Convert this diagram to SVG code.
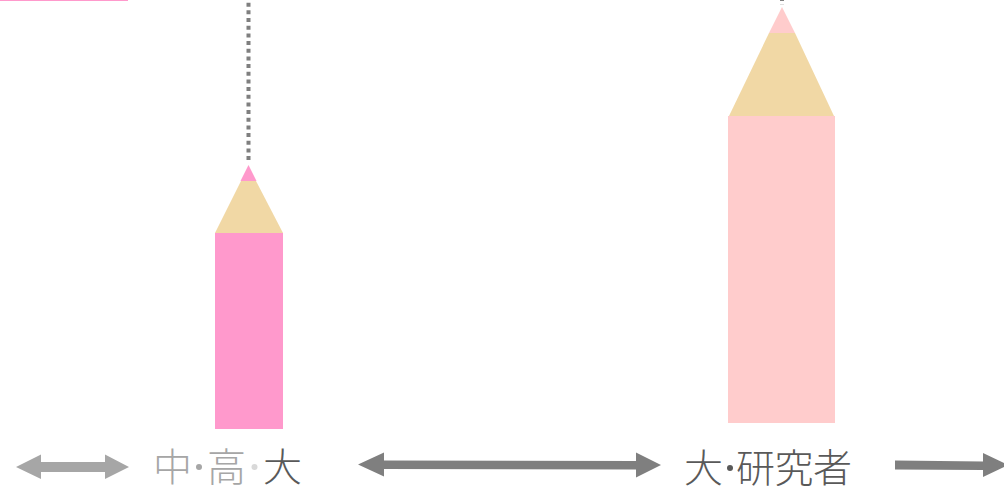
<svg xmlns="http://www.w3.org/2000/svg" width="1004" height="486" viewBox="0 0 1004 486">
<style>
text{font-family:"Noto Sans CJK JP","Noto Sans CJK SC",sans-serif;font-size:39px;font-weight:300}
.dk{fill:#595959}.lt{fill:#a6a6a6}.vl{fill:#d9d9d9}
.wood{fill:#f1d8a5}.pink{fill:#ff99cc}.rose{fill:#ffcccc}
.dots{stroke:#7f7f7f;stroke-width:4;stroke-dasharray:4 3.67;fill:none}
</style>
<rect width="1004" height="486" fill="#fff"/>
<rect x="0" y="0" width="128" height="1" class="pink"/>
<g id="connectors">
<path class="dots" d="M248.500 2.700V163"/>
<path class="dots" d="M782 -3V5"/>
<polygon fill="#a6a6a6" points="16,467 41,454.500 41,462 105,462 105,454.500 129,467 105,479 105,472 41,472 41,479"/>
<polygon fill="#7f7f7f" points="358,464.500 384,452.500 384,460.500 636,461 636,452.500 661,465 636,477.500 636,469.500 384,469 384,476.500"/>
<polygon fill="#7f7f7f" points="895,460.500 983,461.500 983,453 1008,465 983,477 983,470 895,469.500"/>
</g>
<g id="pencil-1">
<rect class="pink" x="215" y="233" width="68" height="196"/>
<polygon class="wood" points="215,233 283,233 256,181 241,181"/>
<polygon class="pink" points="248.500,165 256.500,181 240.500,181"/>
</g>
<g id="pencil-2">
<rect class="rose" x="728" y="116" width="107" height="307"/>
<polygon class="wood" points="729,116 834,116 795,33 769,33"/>
<polygon class="rose" points="782,7 795,33 769,33"/>
</g>
<g id="label-1">
<text class="lt" x="153" y="481">中</text>
<circle class="lt" cx="199" cy="467" r="3"/>
<text class="lt" x="207" y="481">高</text>
<circle class="vl" cx="254.500" cy="467" r="3"/>
<text class="dk" x="263" y="481">大</text>
</g>
<g id="label-2">
<text class="dk" x="684" y="482">大</text>
<circle class="dk" cx="730" cy="468" r="3"/>
<text class="dk" x="736" y="482" textLength="116">研究者</text>
</g>
</svg>
